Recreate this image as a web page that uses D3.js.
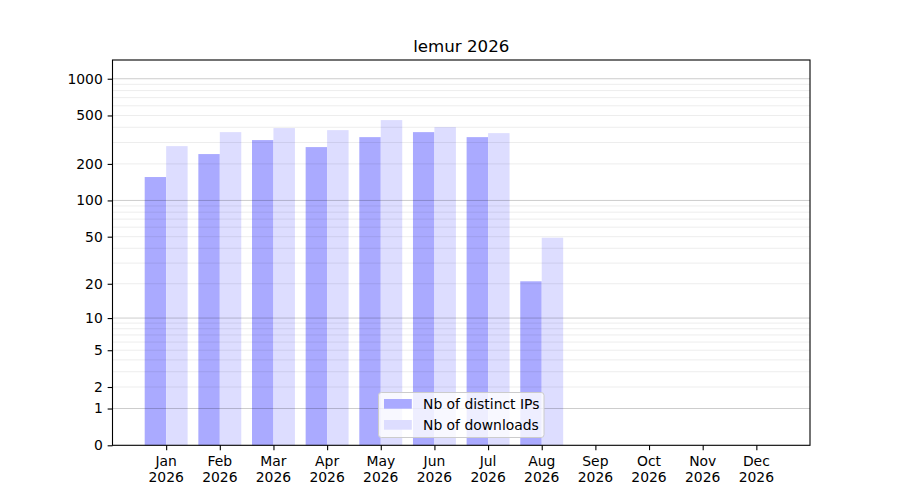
<!DOCTYPE html>
<html>
<head>
<meta charset="utf-8">
<script src="https://cdn.jsdelivr.net/npm/d3@7"></script>
<style>
  body { margin: 0; background: #fff; }
  svg { font-family: "DejaVu Sans", sans-serif; }
</style>
</head>
<body>
<svg id="chart" width="900" height="500"></svg>
<script>
const title = "lemur 2026";
const months = ["Jan","Feb","Mar","Apr","May","Jun","Jul","Aug","Sep","Oct","Nov","Dec"];
const year = "2026";
const distinctIPs = [156, 241, 314, 275, 332, 365, 332, 21, 0, 0, 0, 0];
const downloads   = [280, 365, 394, 379, 458, 401, 358, 49, 0, 0, 0, 0];
const yTicks = [0, 1, 2, 5, 10, 20, 50, 100, 200, 500, 1000];
const majorGrid = [1, 10, 100, 1000];
const minorGrid = [2,3,4,5,6,7,8,9,20,30,40,50,60,70,80,90,200,300,400,500,600,700,800,900];
const seriesNames = ["Nb of distinct IPs", "Nb of downloads"];
const colors = ["#aaaaff", "#ddddff"];

const W = 900, H = 500;
const L = 112.5, R = 810, T = 60, B = 445.3;
const svg = d3.select("#chart");

const x = d3.scaleLinear().domain([-1, 12]).range([L, R]);
const y = d3.scaleSymlog().constant(1).domain([0, 1424]).range([B, T]);
const bw = 0.4;

// bars
const g = svg.append("g");
g.selectAll("rect.ips").data(distinctIPs).join("rect")
  .attr("x", (d, i) => x(i - bw)).attr("width", x(bw) - x(0))
  .attr("y", d => y(d)).attr("height", d => B - y(d))
  .attr("fill", colors[0]);
g.selectAll("rect.dl").data(downloads).join("rect")
  .attr("x", (d, i) => x(i)).attr("width", x(bw) - x(0))
  .attr("y", d => y(d)).attr("height", d => B - y(d))
  .attr("fill", colors[1]);

// grid (above bars, as in matplotlib)
svg.append("g").selectAll("line").data(minorGrid).join("line")
  .attr("x1", L).attr("x2", R).attr("y1", d => y(d)).attr("y2", d => y(d))
  .attr("stroke", "#000").attr("stroke-opacity", 0.075).attr("stroke-width", 1);
svg.append("g").selectAll("line").data(majorGrid).join("line")
  .attr("x1", L).attr("x2", R).attr("y1", d => y(d)).attr("y2", d => y(d))
  .attr("stroke", "#000").attr("stroke-opacity", 0.2).attr("stroke-width", 1);

// y axis
const yAxis = d3.axisLeft(y).tickValues(yTicks).tickFormat(d3.format("d")).tickSize(4.86).tickPadding(4.86);
const ya = svg.append("g").attr("transform", `translate(${L},0)`).call(yAxis);
ya.select(".domain").remove();
ya.selectAll("line").attr("stroke", "#000").attr("stroke-width", 1.1);
ya.selectAll("text").attr("font-size", "13.9px").attr("fill", "#000").attr("font-family", "DejaVu Sans");

// x axis
const xAxis = d3.axisBottom(x).tickValues(d3.range(12)).tickFormat("").tickSize(4.86);
const xa = svg.append("g").attr("transform", `translate(0,${B})`).call(xAxis);
xa.select(".domain").remove();
xa.selectAll("line").attr("stroke", "#000").attr("stroke-width", 1.1);
const xl = svg.append("g").selectAll("text").data(months).join("text")
  .attr("x", (d, i) => x(i)).attr("y", 466)
  .attr("text-anchor", "middle").attr("font-size", "13.9px").attr("fill", "#000");
xl.append("tspan").attr("x", (d, i) => x(i)).text(d => d);
xl.append("tspan").attr("x", (d, i) => x(i)).attr("dy", 16.2).text(year);

// spines
svg.append("rect").attr("x", L).attr("y", T).attr("width", R - L).attr("height", B - T)
  .attr("fill", "none").attr("stroke", "#000").attr("stroke-width", 1.1);

// title
svg.append("text").attr("x", (L + R) / 2).attr("y", 51.7).attr("text-anchor", "middle")
  .attr("font-size", "16.67px").attr("fill", "#000").text(title);

// legend
const lg = svg.append("g");
lg.append("rect").attr("x", 378.5).attr("y", 392.5).attr("width", 165.5).attr("height", 45)
  .attr("rx", 2.8).attr("fill", "#fff").attr("fill-opacity", 0.8).attr("stroke", "#cccccc").attr("stroke-width", 1);
seriesNames.forEach((name, i) => {
  lg.append("rect").attr("x", 384).attr("y", 399 + i * 21).attr("width", 27.8).attr("height", 9.7)
    .attr("fill", colors[i]);
  lg.append("text").attr("x", 423).attr("y", 409 + i * 21).attr("font-size", "13.9px")
    .attr("fill", "#000").text(name);
});
</script>
</body>
</html>
